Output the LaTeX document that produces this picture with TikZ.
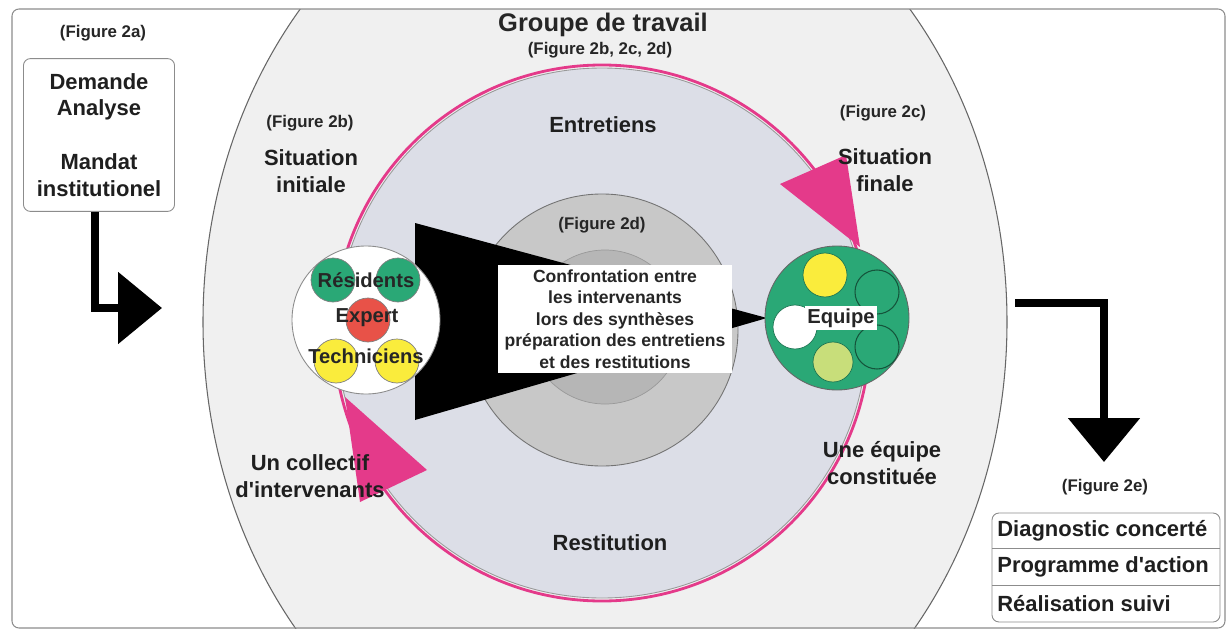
\documentclass[tikz,border=0pt]{standalone}
\usepackage{fontspec}
\setmainfont{Liberation Sans}
\usetikzlibrary{arrows.meta,positioning}
\definecolor{rose}{RGB}{228,58,138}
\definecolor{fondgroupe}{RGB}{240,240,240}
\definecolor{fondcycle}{RGB}{220,222,231}
\definecolor{gris2d}{RGB}{200,200,200}
\definecolor{grisint}{RGB}{182,182,182}
\definecolor{vert}{RGB}{42,168,118}
\definecolor{jaune}{RGB}{250,236,60}
\definecolor{rouge}{RGB}{232,82,72}
\definecolor{olive}{RGB}{200,222,122}
\tikzset{
  lab/.style={font=\bfseries\fontsize{12.5}{15.3}\selectfont,align=center,inner sep=0pt,text=black!88},
  petit/.style={font=\bfseries\fontsize{9.6}{11}\selectfont,inner sep=0pt,text=black!85},
  pion/.style={draw=black!50,line width=0.4pt},
  fleche/.style={line width=4.5pt,-{Triangle[length=25pt,width=40pt]}},
}
\begin{document}
\begin{tikzpicture}[x=0.02cm,y=-0.02cm]
\useasboundingbox (0,0) rectangle (1228,632);
\fill[white] (0,0) rectangle (1228,632);

% groupe de travail
\begin{scope}
  \clip (12,9) rectangle (1225,628);
  \fill[fondgroupe,draw=black!60,line width=0.6pt] (605,322) ellipse [x radius=402,y radius=480];
\end{scope}
\draw[black!45,line width=0.6pt,rounded corners=4pt] (12,9) rectangle (1225,628);

% cycle entretiens / restitution
\fill[fondcycle,draw=black!40,line width=0.5pt] (602,333) circle (265);
\draw[rose,line width=1.6pt] (602,333) circle (268);
\fill[gris2d,draw=black!55,line width=0.5pt] (602,330) circle (136);
\fill[grisint,draw=black!40,line width=0.4pt] (605,327) circle (77);

% pointes du cycle
\fill[rose] (780,184) -- (846,155) -- (860,247) -- cycle;
\fill[rose] (345,397) -- (427,470) -- (360,502) -- cycle;

% entonnoir
\fill[black] (415,223) -- (415,420) -- (767,318) -- cycle;

% situation initiale
\fill[white,draw=black!45,line width=0.5pt] (366,320) circle (74);
\fill[vert,pion] (333,280) circle (22);
\fill[vert,pion] (398,280) circle (22);
\fill[rouge,pion] (368,320) circle (22);
\fill[jaune,pion] (336,361) circle (22);
\fill[jaune,pion] (397,361) circle (22);
\node[font=\bfseries\fontsize{11.5}{13}\selectfont,text=black!85] (res) at (366,280) {Résidents};
\node[font=\bfseries\fontsize{11.5}{13}\selectfont,text=black!85] (exp) at (367,318) {Expert};
\node[font=\bfseries\fontsize{11.5}{13}\selectfont,text=black!85] (tech) at (366,356) {Techniciens};

% confrontation
\node[fill=white,inner sep=0pt,minimum width=133pt,minimum height=61pt,align=center,
      font=\bfseries\fontsize{10}{12.3}\selectfont,text=black!85] (conf) at (615,319)
  {Confrontation entre\\les intervenants\\lors des synthèses\\préparation des entretiens\\et des restitutions};

% situation finale
\fill[vert,draw=black!60,line width=0.5pt] (837,318) circle (72);
\fill[jaune,draw=vert!70!black,line width=0.4pt] (825,275) circle (22);
\fill[olive,draw=vert!70!black,line width=0.4pt] (833,362) circle (20);
\fill[white,draw=vert!70!black,line width=0.4pt] (795,327) circle (22);
\fill[vert,draw=vert!50!black,line width=0.6pt] (877,292) circle (22);
\fill[vert,draw=vert!50!black,line width=0.6pt] (877,347) circle (22);
\node[fill=white,inner sep=1.5pt,font=\bfseries\fontsize{11.5}{13}\selectfont,text=black!85] (equipe) at (841,318) {Equipe};

% textes du groupe
\node[font=\bfseries\fontsize{14.5}{16}\selectfont,text=black!85] (grp) at (603,25) {Groupe de travail};
\node[petit] (figbcd) at (600,50) {(Figure 2b, 2c, 2d)};
\node[petit] (figb) at (310,123) {(Figure 2b)};
\node[lab] (sitI) at (311,171) {Situation\\initiale};
\node[lab] (entr) at (603,125) {Entretiens};
\node[petit] (figc) at (883,113) {(Figure 2c)};
\node[lab] (sitF) at (885,170) {Situation\\finale};
\node[petit] (figd) at (602,225) {(Figure 2d)};
\node[lab] (coll) at (310,476) {Un collectif\\d\textquotesingle intervenants};
\node[lab] (uneq) at (882,463) {Une équipe\\constituée};
\node[lab] (rest) at (610,543) {Restitution};

% demande
\node[petit] (figa) at (103,33) {(Figure 2a)};
\node[lab,draw=black!45,line width=0.5pt,rounded corners=4pt,minimum width=86pt,minimum height=87pt] (dem) at (99,135)
  {Demande\\Analyse\\[15.3pt]Mandat\\institutionel};
\coordinate (inL) at (162,308);
\draw[fleche] (dem.south) ++(-4,0) |- (inL);

% resultats
\coordinate (outR) at (1015,303);
\coordinate (downR) at (1104,462);
\draw[fleche] (outR) -| (downR);
\node[petit] (fige) at (1105,487) {(Figure 2e)};
\draw[black!45,line width=0.5pt,rounded corners=4pt] (992,513) rectangle (1220,622);
\draw[black!45,line width=0.5pt] (992,548) -- (1220,548) (992,585) -- (1220,585);
\node[lab,anchor=west] (diag) at (997,531) {Diagnostic concerté};
\node[lab,anchor=west] (prog) at (997,567) {Programme d\textquotesingle action};
\node[lab,anchor=west] (real) at (997,604) {Réalisation suivi};
\end{tikzpicture}
\end{document}
